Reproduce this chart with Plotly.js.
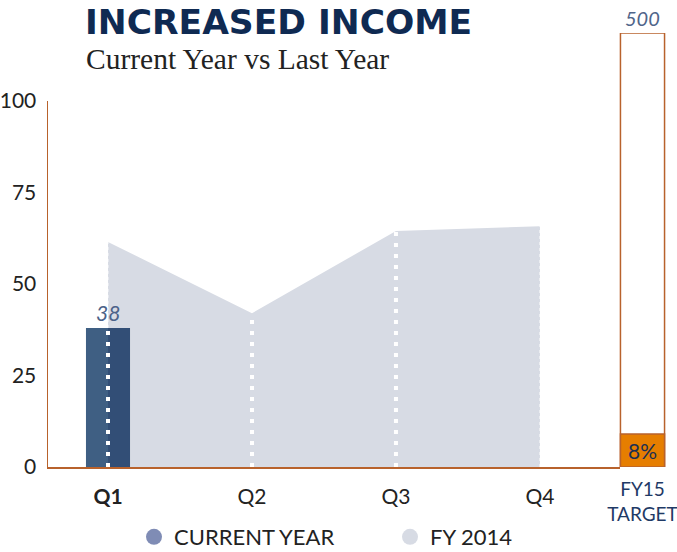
<!DOCTYPE html>
<html>
<head>
<meta charset="utf-8">
<script src="https://cdn.plot.ly/plotly-3.0.1.min.js"></script>
<style>html,body{margin:0;padding:0;background:#fff;}#chart{width:677px;height:552px;}</style>
</head>
<body>
<div id="chart"></div>
<script>
// ---- data ----
const quarters = ['Q1', 'Q2', 'Q3', 'Q4'];
const quarterLabels = ['<b>Q1</b>', 'Q2', 'Q3', 'Q4'];
const currentYear = [38, null, null, null];
const fy2014 = [61.5, 42, 64.5, 65.8];
const targetCategory = ['FY15<br>TARGET'];
const targetValue = [500];
const yTicks = [0, 25, 50, 75, 100];
const seriesNames = ['CURRENT YEAR', 'FY 2014'];

// ---- derived ----
const achieved = currentYear.reduce((s, v) => s + (v || 0), 0);
const pct = Math.round(achieved / targetValue[0] * 100);

const brown = '#b8622c';
const areaColor = '#d7dbe4';
const font = 'Lato, "Open Sans", sans-serif';

const traces = [];

// FY 2014 area (base subplot)
traces.push({
  type: 'scatter', x: quarters, y: fy2014, xaxis: 'x', yaxis: 'y',
  mode: 'lines', line: {width: 0, color: areaColor}, fill: 'tozeroy', fillcolor: areaColor,
  showlegend: false, hoverinfo: 'skip'
});

// Current year bar, two-tone halves (overlay subplot, above area)
traces.push({
  type: 'bar', x: quarters, y: currentYear, xaxis: 'x3', yaxis: 'y3',
  width: 0.153, offset: -0.153, marker: {color: '#3f5f83', line: {width: 0}},
  showlegend: false, hoverinfo: 'skip'
});
traces.push({
  type: 'bar', x: quarters, y: currentYear, xaxis: 'x3', yaxis: 'y3',
  width: 0.153, offset: 0, marker: {color: '#324e76', line: {width: 0}},
  showlegend: false, hoverinfo: 'skip'
});

// dotted guide lines
quarters.forEach((q, i) => {
  const cur = currentYear[i];
  const top = (cur != null) ? cur : fy2014[i];
  if (i < 3) {
    traces.push({
      type: 'scatter', x: [q, q], y: [0, top], xaxis: 'x3', yaxis: 'y3', mode: 'lines',
      line: {color: '#ffffff', width: 4, dash: '4px,7px'}, showlegend: false, hoverinfo: 'skip'
    });
  }
  if (cur != null && cur < fy2014[i]) {
    traces.push({
      type: 'scatter', x: [q, q], y: [cur, fy2014[i]], xaxis: 'x3', yaxis: 'y3', mode: 'lines',
      line: {color: 'rgba(255,255,255,0.8)', width: 1, dash: '3px,3px'}, showlegend: false, hoverinfo: 'skip'
    });
  }
  if (i === 3) {
    traces.push({
      type: 'scatter', x: [q, q], y: [0, fy2014[i]], xaxis: 'x3', yaxis: 'y3', mode: 'lines',
      line: {color: 'rgba(255,255,255,0.9)', width: 1, dash: '3px,3px'}, showlegend: false, hoverinfo: 'skip'
    });
  }
});

// target box + achieved fill
traces.push({
  type: 'bar', x: targetCategory, y: targetValue, xaxis: 'x2', yaxis: 'y2',
  width: 0.9, marker: {color: '#ffffff', line: {color: brown, width: 1.5}},
  cliponaxis: false, showlegend: false, hoverinfo: 'skip'
});
traces.push({
  type: 'bar', x: targetCategory, y: [achieved], xaxis: 'x2', yaxis: 'y2',
  width: 0.9, marker: {color: '#e67e00', line: {color: brown, width: 1.5}},
  text: [pct + '%'], textposition: 'inside', insidetextanchor: 'middle',
  textfont: {family: font, size: 21, color: '#1b2f52'},
  cliponaxis: false, showlegend: false, hoverinfo: 'skip'
});

// legend entries
traces.push({type: 'scatter', x: [null], y: [null], mode: 'markers', name: seriesNames[0],
  marker: {color: '#7f8cb5', size: 26, symbol: 'circle'}, showlegend: true});
traces.push({type: 'scatter', x: [null], y: [null], mode: 'markers', name: seriesNames[1],
  marker: {color: areaColor, size: 26, symbol: 'circle'}, showlegend: true});

const W = 677, H = 552;
const mL = 48, mR = 10, mT = 33, mB = 85;
const plotW = W - mL - mR;
const plotH = H - mT - mB;
const mainRight = (620 - mL) / plotW;
const qRange = [-0.4167, 3.556];
const yTop = (467 - 101) / plotH;

const layout = {
  width: W, height: H,
  margin: {l: mL, r: mR, t: mT, b: mB},
  paper_bgcolor: '#ffffff', plot_bgcolor: 'rgba(0,0,0,0)',
  barmode: 'overlay',
  font: {family: font, color: '#222222'},
  title: {
    text: 'INCREASED INCOME',
    font: {family: '"DejaVu Sans", sans-serif', size: 34.5, color: '#0f2a52', weight: 'bold'},
    x: 85 / W, xanchor: 'left', xref: 'container',
    y: 1 - 22 / H, yanchor: 'middle', yref: 'container'
  },
  xaxis: {
    type: 'category', categoryorder: 'array', categoryarray: quarters,
    tickvals: quarters, ticktext: quarterLabels,
    domain: [0, mainRight], range: qRange,
    showline: true, linecolor: brown, linewidth: 1.5, showgrid: false, zeroline: false,
    ticks: '', ticklabelstandoff: 10,
    tickfont: {family: font, size: 21, color: '#222222'}, fixedrange: true
  },
  yaxis: {
    domain: [0, yTop], range: [0, 100], tickvals: yTicks,
    showline: true, linecolor: brown, linewidth: 1.5, showgrid: false, zeroline: false,
    ticks: '', ticklabelstandoff: 6,
    tickfont: {family: font, size: 21, color: '#222222'}, fixedrange: true
  },
  xaxis3: {
    type: 'category', categoryorder: 'array', categoryarray: quarters,
    overlaying: 'x', range: qRange, visible: false, fixedrange: true
  },
  yaxis3: {overlaying: 'y', range: [0, 100], visible: false, fixedrange: true},
  xaxis2: {
    type: 'category', domain: [(618 - mL) / plotW, 1], range: [-0.5, 0.5], anchor: 'y2',
    showline: false, showgrid: false, zeroline: false, ticks: '', ticklabelstandoff: 9,
    tickfont: {family: font, size: 19, color: '#1f3a66'}, fixedrange: true
  },
  yaxis2: {
    domain: [0, 1], range: [0, targetValue[0]], anchor: 'x2', visible: false, fixedrange: true
  },
  annotations: [
    {
      text: 'Current Year vs Last Year', xref: 'paper', yref: 'paper',
      x: (84 - mL) / plotW, xanchor: 'left', y: 1 + (mT - 59) / plotH, yanchor: 'middle',
      showarrow: false, font: {family: '"Liberation Serif", serif', size: 29.5, color: '#222222'}
    },
    {
      text: '<i>' + targetValue[0] + '</i>', xref: 'x2', yref: 'y2',
      x: targetCategory[0], y: targetValue[0], yanchor: 'bottom', yshift: 1,
      showarrow: false, font: {family: font, size: 20, color: '#50658a'}
    },
    {
      text: '<i>' + currentYear[0] + '</i>', xref: 'x3', yref: 'y3',
      x: quarters[0], y: currentYear[0], yanchor: 'bottom', yshift: 1,
      showarrow: false, font: {family: font, size: 21, color: '#4b6289'}
    }
  ],
  showlegend: true,
  legend: {
    orientation: 'h', xref: 'container', yref: 'container',
    x: 134 / W, xanchor: 'left', y: 1 - 537 / H, yanchor: 'middle',
    font: {family: font, size: 22, color: '#222222'},
    entrywidth: 211, entrywidthmode: 'pixels', itemsizing: 'trace',
    bgcolor: 'rgba(0,0,0,0)'
  }
};

Plotly.newPlot('chart', traces, layout, {displayModeBar: false, staticPlot: true});
</script>
</body>
</html>
